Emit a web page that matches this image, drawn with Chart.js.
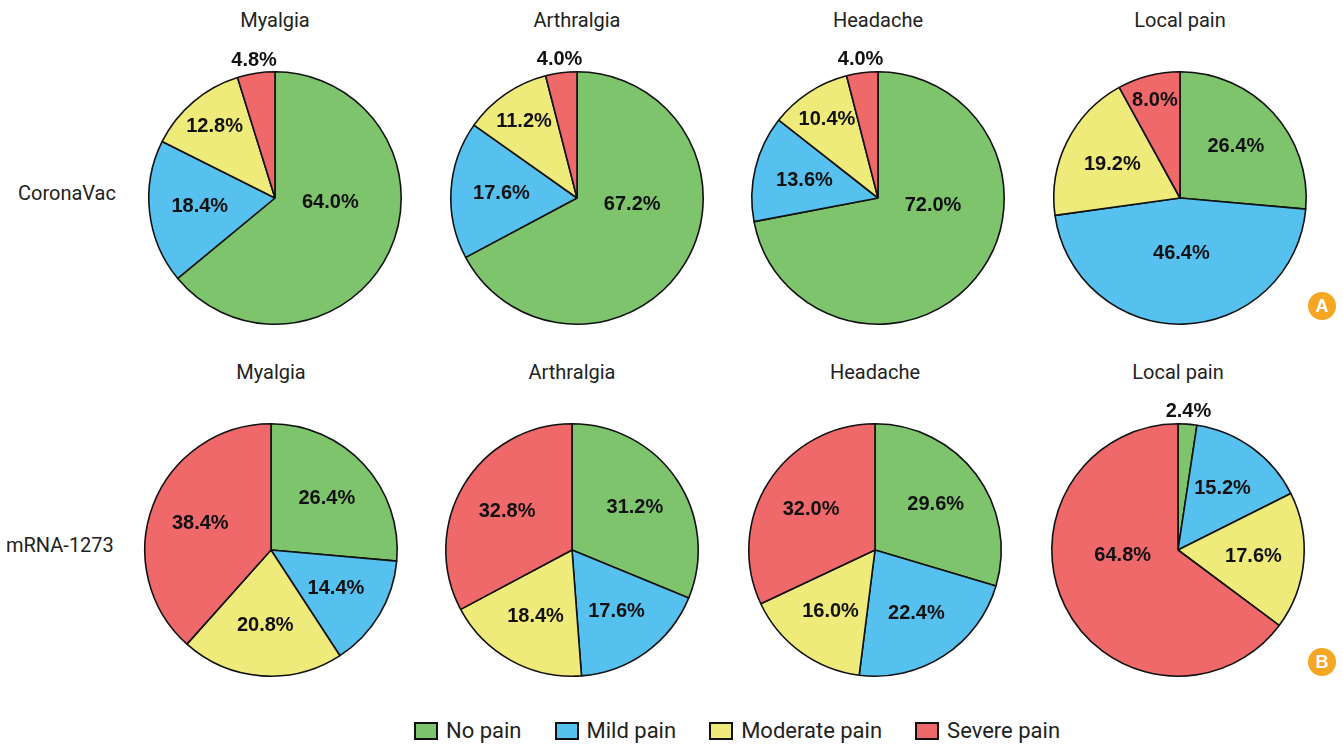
<!DOCTYPE html>
<html>
<head>
<meta charset="utf-8">
<script src="https://cdn.jsdelivr.net/npm/chart.js@4"></script>
<style>
  body { margin: 0; background: #fff; }
  #wrap { position: relative; width: 1343px; height: 744px; overflow: hidden; font-family: Roboto, "Liberation Sans", sans-serif; color: #222; }
  .pie { position: absolute; width: 300px; height: 300px; }
  .title { position: absolute; width: 300px; text-align: center; font-size: 20px; }
  .rowlab { position: absolute; font-size: 20px; transform: translateY(-50%); }
  .badge { position: absolute; width: 28px; height: 28px; border-radius: 50%; background: #f5a623; color: #fff;
           font: bold 18px "Liberation Sans", Arial, sans-serif; text-align: center; line-height: 28px; }
  #legend { position: absolute; left: 414px; top: 718px; display: flex; font-size: 22px; }
  .item { display: flex; align-items: center; margin-right: 33px; }
  .box { width: 20px; height: 14px; border: 2px solid #111; margin-right: 8px; }
</style>
</head>
<body>
<div id="wrap"></div>
<script>
const categories = ['No pain', 'Mild pain', 'Moderate pain', 'Severe pain'];
const symptoms = ['Myalgia', 'Arthralgia', 'Headache', 'Local pain'];
const groups = ['CoronaVac', 'mRNA-1273'];
const badges = ['A', 'B'];

// percentages, one row per symptom, in category order
const coronaVac = [
    [64.0, 18.4, 12.8, 4.8],
    [67.2, 17.6, 11.2, 4.0],
    [72.0, 13.6, 10.4, 4.0],
    [26.4, 46.4, 19.2, 8.0]
];
const mrna1273 = [
    [26.4, 14.4, 20.8, 38.4],
    [31.2, 17.6, 18.4, 32.8],
    [29.6, 22.4, 16.0, 32.0],
    [2.4, 15.2, 17.6, 64.8]
];

const colors = ['#7dc46c', '#56c1ee', '#efeb7a', '#ef686a'];

// layout: pie centres per row
const rowY = [198, 550];
const colX = [[275, 577, 878, 1180], [271, 572, 875, 1178]];

const wrap = document.getElementById('wrap');

// percentage labels inside slices, small ones above the rim
const sliceLabels = {
    id: 'sliceLabels',
    afterDatasetsDraw(chart) {
        const ctx = chart.ctx;
        const meta = chart.getDatasetMeta(0);
        const vals = chart.data.datasets[0].data;
        ctx.save();
        ctx.font = 'bold 20px "Liberation Sans", Arial, sans-serif';
        ctx.fillStyle = '#111';
        ctx.textAlign = 'center';
        ctx.textBaseline = 'middle';
        meta.data.forEach((arc, i) => {
            const v = vals[i];
            let ang = (arc.startAngle + arc.endAngle) / 2;
            const r = arc.outerRadius;
            let d;
            if (v < 6) d = r + 13;
            else if (v < 9) d = r * 0.8;
            else if (v < 13) d = r * 0.74;
            else if (v > 40) {
                d = r * 0.44;
                if (v > 50) {
                    // big slices: label sits nearer the horizontal
                    const horiz = Math.cos(ang) >= 0 ? 0 : Math.PI;
                    let a = ((ang % (2 * Math.PI)) + 2 * Math.PI) % (2 * Math.PI);
                    if (horiz === 0 && a > Math.PI) a -= 2 * Math.PI;
                    ang = a + (horiz - a) * 0.8;
                }
            } else d = r * 0.6;
            const x = arc.x + Math.cos(ang) * d;
            const y = arc.y + Math.sin(ang) * d;
            ctx.fillText(v.toFixed(1) + '%', x, y);
        });
        ctx.restore();
    }
};

[coronaVac, mrna1273].forEach((rows, g) => {
    const lab = document.createElement('div');
    lab.className = 'rowlab';
    lab.textContent = groups[g];
    lab.style.left = (g === 0 ? 18 : 6) + 'px';
    lab.style.top = (rowY[g] - 5) + 'px';
    wrap.appendChild(lab);

    const b = document.createElement('div');
    b.className = 'badge';
    b.textContent = badges[g];
    b.style.left = '1308px';
    b.style.top = (rowY[g] + (g === 0 ? 94 : 98)) + 'px';
    wrap.appendChild(b);

    rows.forEach((vals, s) => {
        const cx = colX[g][s], cy = rowY[g];
        const t = document.createElement('div');
        t.className = 'title';
        t.textContent = symptoms[s];
        t.style.left = (cx - 150) + 'px';
        t.style.top = (cy - 190) + 'px';
        wrap.appendChild(t);

        const c = document.createElement('canvas');
        c.className = 'pie';
        c.width = 300; c.height = 300;
        c.style.left = (cx - 150) + 'px';
        c.style.top = (cy - 150) + 'px';
        wrap.appendChild(c);

        new Chart(c, {
            type: 'pie',
            data: {
                labels: categories,
                datasets: [{
                    data: vals,
                    backgroundColor: colors,
                    borderColor: '#111',
                    borderWidth: 1.6
                }]
            },
            options: {
                responsive: false,
                animation: false,
                layout: { padding: 23 },
                plugins: { legend: { display: false }, tooltip: { enabled: false } }
            },
            plugins: [sliceLabels]
        });
    });
});

const legend = document.createElement('div');
legend.id = 'legend';
categories.forEach((name, i) => {
    const it = document.createElement('div');
    it.className = 'item';
    const bx = document.createElement('div');
    bx.className = 'box';
    bx.style.background = colors[i];
    const tx = document.createElement('span');
    tx.textContent = name;
    it.appendChild(bx);
    it.appendChild(tx);
    legend.appendChild(it);
});
wrap.appendChild(legend);
</script>
</body>
</html>
